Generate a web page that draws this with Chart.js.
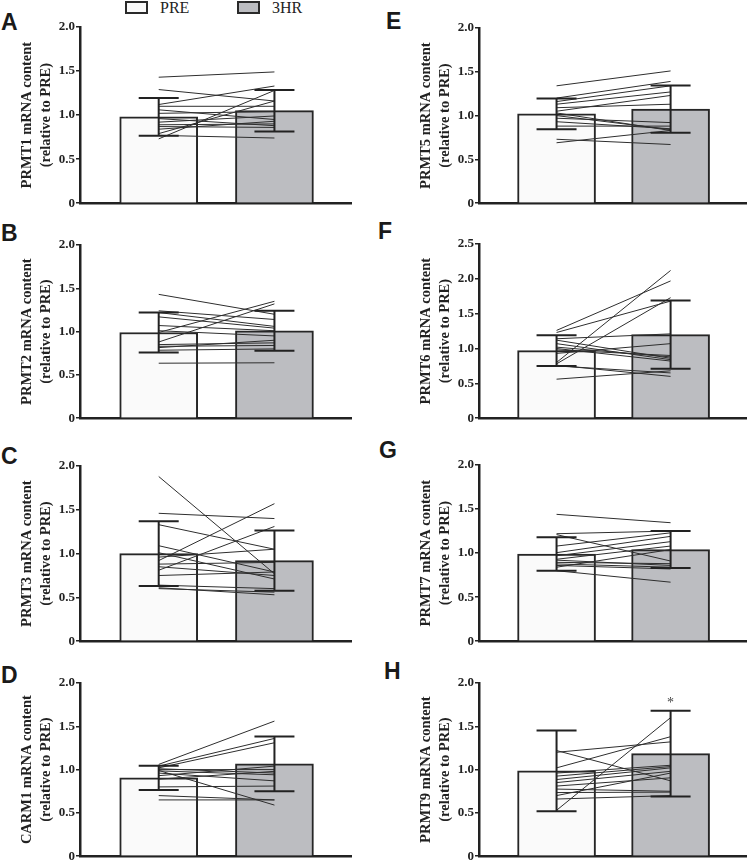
<!DOCTYPE html>
<html>
<head>
<meta charset="utf-8">
<script src="https://cdn.jsdelivr.net/npm/chart.js@4.4.1/dist/chart.umd.min.js"></script>
<style>
  html, body { margin: 0; padding: 0; background: #ffffff; }
  #wrap { position: relative; width: 750px; height: 866px; overflow: hidden; }
  canvas { position: absolute; }
  .letter { position: absolute; font-family: "Liberation Sans", Arial, sans-serif; font-weight: bold; font-size: 23px; line-height: 23px; color: #1a1a1a; }
  .lbox { position: absolute; width: 19px; height: 9px; border: 2px solid #2a2a2a; }
  .ltext { position: absolute; font-family: "Liberation Serif", "Times New Roman", serif; font-size: 16px; line-height: 16px; color: #222; }
</style>
</head>
<body>
<div id="wrap">
  <div class="lbox" style="left:125px; top:1px; background:#fafafa;"></div>
  <div class="ltext" style="left:160px; top:0px;">PRE</div>
  <div class="lbox" style="left:237px; top:1px; background:#bcbdc1;"></div>
  <div class="ltext" style="left:272px; top:0px;">3HR</div>
</div>
<script>
// ---------- DATA ----------
const groups = ['PRE', '3HR'];
const groupX = [0, 1];
const panelLetters = ['A', 'B', 'C', 'D', 'E', 'F', 'G', 'H'];
const genes = ['PRMT1', 'PRMT2', 'PRMT3', 'CARM1', 'PRMT5', 'PRMT6', 'PRMT7', 'PRMT9'];
const yMaxes = [2.0, 2.0, 2.0, 2.0, 2.0, 2.5, 2.0, 2.0];
const significant = [false, false, false, false, false, false, false, true]; // * on 3HR

// group means [PRE, 3HR]
const meanA = [0.98, 1.05];
const meanB = [0.99, 1.01];
const meanC = [1.00, 0.92];
const meanD = [0.905, 1.067];
const meanE = [1.02, 1.075];
const meanF = [0.97, 1.20];
const meanG = [0.99, 1.04];
const meanH = [0.985, 1.185];

// standard deviations [PRE, 3HR]
const sdA = [0.215, 0.235];
const sdB = [0.23, 0.23];
const sdC = [0.37, 0.345];
const sdD = [0.14, 0.316];
const sdE = [0.175, 0.27];
const sdF = [0.22, 0.49];
const sdG = [0.19, 0.21];
const sdH = [0.467, 0.495];

// individual subjects (PRE -> 3HR)
const preA  = [1.43, 1.29, 1.12, 1.10, 1.06, 1.02, 0.96, 0.92, 0.89, 0.87, 0.84, 0.79, 0.77, 0.73];
const postA = [1.49, 1.16, 1.33, 1.10, 0.95, 1.04, 0.88, 0.99, 0.90, 0.86, 0.93, 1.16, 0.74, 1.28];
const preB  = [1.43, 1.24, 1.22, 1.17, 1.07, 1.01, 0.99, 0.88, 0.85, 0.83, 0.815, 0.785, 0.635];
const postB = [1.20, 1.14, 1.06, 1.04, 1.01, 0.95, 1.35, 1.32, 0.87, 0.84, 0.90, 0.80, 0.64];
const preC  = [1.88, 1.46, 1.33, 1.09, 1.01, 0.96, 0.92, 0.88, 0.85, 0.81, 0.75, 0.64, 0.61, 0.60];
const postC = [0.77, 1.40, 1.05, 0.79, 0.71, 1.05, 1.57, 0.90, 0.75, 1.31, 0.79, 0.60, 0.53, 0.56];
const preD  = [1.06, 1.04, 1.02, 1.00, 0.99, 1.01, 0.985, 0.96, 0.89, 0.80, 0.65, 0.93, 0.70];
const postD = [1.56, 1.36, 1.31, 1.00, 0.59, 0.96, 0.94, 0.87, 0.98, 0.81, 0.65, 1.04, 0.65];
const preE  = [1.34, 1.20, 1.16, 1.13, 1.09, 1.05, 1.03, 1.00, 0.97, 0.93, 0.88, 0.73, 0.69];
const postE = [1.51, 1.39, 1.34, 1.27, 1.13, 1.23, 0.83, 0.84, 0.92, 0.85, 0.88, 0.67, 0.83];
const preF  = [1.26, 1.23, 1.14, 1.12, 1.07, 1.02, 1.00, 0.98, 0.93, 0.80, 0.78, 0.76, 0.75, 0.56];
const postF = [1.97, 1.68, 1.21, 0.86, 0.84, 0.88, 0.82, 0.90, 1.07, 2.12, 1.73, 0.60, 0.65, 0.68];
const preG  = [1.44, 1.22, 1.21, 1.08, 1.005, 0.97, 0.93, 0.895, 0.877, 0.86, 0.84, 0.80, 0.92];
const postG = [1.345, 1.25, 0.91, 1.23, 1.19, 1.13, 1.08, 0.88, 0.84, 0.82, 1.04, 0.67, 0.86];
const preH  = [1.22, 1.20, 1.02, 0.96, 0.925, 0.885, 0.85, 0.81, 0.775, 0.735, 0.70, 0.66, 0.53];
const postH = [0.87, 1.32, 1.38, 1.05, 1.035, 1.02, 0.98, 0.905, 0.75, 0.74, 0.96, 0.70, 1.60];

const panelMeans = [meanA, meanB, meanC, meanD, meanE, meanF, meanG, meanH];
const panelSDs = [sdA, sdB, sdC, sdD, sdE, sdF, sdG, sdH];
const panelPre = [preA, preB, preC, preD, preE, preF, preG, preH];
const panelPost = [postA, postB, postC, postD, postE, postF, postG, postH];

// ---------- LAYOUT / STYLE ----------
const colLeft = [0, 0, 0, 0, 399, 399, 399, 399];
const canvasW = [352, 352, 352, 352, 348, 348, 348, 348];
const plotTop = [27, 245, 466, 683, 28, 244, 465, 683];
const plotBottom = [208, 423, 646, 861, 208, 423, 646, 861];
const letterPos = [[1, 11], [1, 222], [1, 445], [1, 664], [386, 10], [378, 220], [379, 439], [384, 660]];
const barFills = ['#fafafa', '#bcbdc1'];
const ink = '#222222';
const serif = '"Liberation Serif", "Times New Roman", serif';
const PAD_TOP = 14, PAD_BOTTOM = 4;

const wrap = document.getElementById('wrap');

function makePanel(i) {
  const letter = document.createElement('div');
  letter.className = 'letter';
  letter.textContent = panelLetters[i];
  letter.style.left = letterPos[i][0] + 'px';
  letter.style.top = letterPos[i][1] + 'px';
  wrap.appendChild(letter);

  const cv = document.createElement('canvas');
  const h = (plotBottom[i] - plotTop[i]) + PAD_TOP + PAD_BOTTOM;
  cv.width = canvasW[i];
  cv.height = h;
  cv.style.width = canvasW[i] + 'px';
  cv.style.height = h + 'px';
  cv.style.left = colLeft[i] + 'px';
  cv.style.top = (plotTop[i] - PAD_TOP) + 'px';
  wrap.appendChild(cv);

  const means = panelMeans[i], sds = panelSDs[i];
  const pre = panelPre[i], post = panelPost[i];

  const datasets = [{
    type: 'bar',
    label: 'mean',
    data: groupX.map((x, k) => ({ x: x, y: means[k] })),
    backgroundColor: barFills,
    borderColor: '#262626',
    borderWidth: 2,
    borderSkipped: 'start',
    barThickness: 78,
    order: 10
  }];
  pre.forEach((v, s) => {
    datasets.push({
      type: 'line',
      label: 'subject ' + (s + 1),
      data: [{ x: groupX[0], y: v }, { x: groupX[1], y: post[s] }],
      borderColor: '#2e2e2e',
      borderWidth: 1,
      pointRadius: 0,
      fill: false,
      tension: 0,
      order: 1
    });
  });

  const errPlugin = {
    id: 'errbars' + i,
    afterDatasetsDraw(chart) {
      const ctx = chart.ctx, xs = chart.scales.x, ys = chart.scales.y;
      ctx.save();
      ctx.strokeStyle = ink;
      ctx.lineWidth = 2;
      groupX.forEach((gx, k) => {
        const px = xs.getPixelForValue(gx);
        const top = ys.getPixelForValue(means[k] + sds[k]);
        const bot = ys.getPixelForValue(means[k] - sds[k]);
        ctx.beginPath();
        ctx.moveTo(px, top); ctx.lineTo(px, bot);
        ctx.moveTo(px - 20, top); ctx.lineTo(px + 20, top);
        ctx.moveTo(px - 20, bot); ctx.lineTo(px + 20, bot);
        ctx.stroke();
        if (k === 1 && significant[i]) {
          ctx.fillStyle = '#444';
          ctx.font = '14px ' + serif;
          ctx.textAlign = 'center';
          ctx.textBaseline = 'middle';
          ctx.fillText('*', px, top - 7);
        }
      });
      ctx.restore();
    }
  };

  new Chart(cv.getContext('2d'), {
    type: 'bar',
    data: { datasets: datasets },
    options: {
      responsive: false,
      animation: false,
      devicePixelRatio: 1,
      layout: { padding: { top: PAD_TOP, bottom: PAD_BOTTOM, left: 0, right: 0 } },
      scales: {
        x: {
          type: 'linear',
          offset: false,
          min: -0.68,
          max: 1.67,
          ticks: { display: false },
          grid: { display: false },
          border: { display: true, width: 2.5, color: ink },
          afterFit(s) { s.height = 0; }
        },
        y: {
          min: 0,
          max: yMaxes[i],
          ticks: {
            stepSize: 0.5,
            padding: 1,
            color: ink,
            font: { family: serif, weight: 'bold', size: 13 },
            callback: (v) => (v === 0 ? '0' : Number(v).toFixed(1))
          },
          grid: { display: true, drawOnChartArea: false, drawTicks: true, tickLength: 4, color: ink, lineWidth: 1.5 },
          border: { display: true, width: 2.5, color: ink },
          title: {
            display: true,
            text: [genes[i] + ' mRNA content', '(relative to PRE)'],
            color: ink,
            font: { family: serif, weight: 'bold', size: 14.5, lineHeight: '19px' },
            padding: { top: 17.5, bottom: 0 }
          },
          afterFit(s) { s.width = 80; }
        }
      },
      plugins: { legend: { display: false }, tooltip: { enabled: false } }
    },
    plugins: [errPlugin]
  });
}

for (let i = 0; i < 8; i++) makePanel(i);
</script>
</body>
</html>
